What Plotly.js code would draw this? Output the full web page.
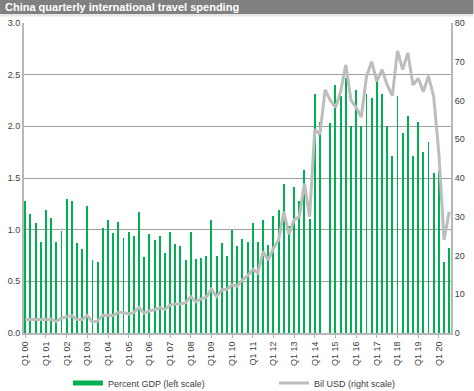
<!DOCTYPE html>
<html><head><meta charset="utf-8">
<script src="https://cdn.plot.ly/plotly-3.0.1.min.js"></script>
<style>html,body{margin:0;padding:0;background:#fff}#chart{width:474px;height:391px}</style>
</head><body><div id="chart"></div>
<script>
// Quarters Q1 2000 .. Q3 2020
const quarters = [
 'Q1 00','Q2 00','Q3 00','Q4 00','Q1 01','Q2 01','Q3 01','Q4 01','Q1 02','Q2 02','Q3 02','Q4 02',
 'Q1 03','Q2 03','Q3 03','Q4 03','Q1 04','Q2 04','Q3 04','Q4 04','Q1 05','Q2 05','Q3 05','Q4 05',
 'Q1 06','Q2 06','Q3 06','Q4 06','Q1 07','Q2 07','Q3 07','Q4 07','Q1 08','Q2 08','Q3 08','Q4 08',
 'Q1 09','Q2 09','Q3 09','Q4 09','Q1 10','Q2 10','Q3 10','Q4 10','Q1 11','Q2 11','Q3 11','Q4 11',
 'Q1 12','Q2 12','Q3 12','Q4 12','Q1 13','Q2 13','Q3 13','Q4 13','Q1 14','Q2 14','Q3 14','Q4 14',
 'Q1 15','Q2 15','Q3 15','Q4 15','Q1 16','Q2 16','Q3 16','Q4 16','Q1 17','Q2 17','Q3 17','Q4 17',
 'Q1 18','Q2 18','Q3 18','Q4 18','Q1 19','Q2 19','Q3 19','Q4 19','Q1 20','Q2 20','Q3 20'];

// Percent of GDP (left scale)
const pctGDP = [
 1.28,1.15,1.06,0.88, 1.19,1.11,0.88,0.99, 1.30,1.28,0.87,0.81,
 1.23,0.71,0.69,1.02, 1.09,0.97,1.07,0.92, 0.98,0.94,1.17,0.74,
 0.955,0.90,0.94,0.77, 0.98,0.865,0.84,0.705, 0.98,0.72,0.73,0.75,
 1.09,0.75,0.875,0.75, 1.00,0.84,0.91,0.88, 1.065,0.88,1.09,0.855,
 1.13,1.19,1.445,1.04, 1.41,1.28,1.58,1.10, 2.31,2.04,null,2.03,
 2.40,2.29,2.47,2.00, 2.35,2.00,2.31,2.27, 2.43,2.31,2.00,1.71,
 2.29,1.94,2.10,1.71, 2.04,1.75,1.85,1.55, 1.57,0.69,0.82];

// Billion USD (right scale)
const bilUSD = [
 3.5,3.5,3.4,3.35, 3.5,3.55,3.0,3.8, 4.2,4.5,3.5,3.5,
 4.5,2.8,3.1,4.6, 4.5,4.5,5.3,5.3, 4.9,5.3,6.6,5.1,
 5.7,6.0,6.5,6.1, 7.2,7.5,7.5,7.8, 9.4,8.1,8.8,9.2,
 11.3,9.4,11.1,11.3, 12.4,12.1,13.7,14.7, 16.4,15.6,21.0,18.8,
 21.9,24.0,31.3,25.5, 29.2,30.0,38.6,30.0, 52.5,51.3,62.8,60.0,
 58.2,62.3,69.2,60.1, 58.2,55.7,66.2,70.0, 64.9,68.0,64.0,61.2,
 72.8,68.0,72.3,64.0, 65.7,62.3,66.3,61.0, 46.4,24.0,31.3];

const yearTicks = ['Q1 00','Q1 01','Q1 02','Q1 03','Q1 04','Q1 05','Q1 06','Q1 07','Q1 08','Q1 09','Q1 10',
 'Q1 11','Q1 12','Q1 13','Q1 14','Q1 15','Q1 16','Q1 17','Q1 18','Q1 19','Q1 20'];

const leftTicks = [0,0.5,1,1.5,2,2.5,3];
const rightTicks = [0,10,20,30,40,50,60,70,80];

const seriesNames = ['Percent GDP (left scale)','Bil USD (right scale)'];
const titleText = 'China quarterly international travel spending';

const GREEN = '#00b050', GREY = '#bdbdbd';
const FONT = 'Liberation Sans, Arial, sans-serif';

const traces = [
  {type:'bar', x:quarters, y:pctGDP, marker:{color:GREEN, line:{width:0}}, width:0.38,
   showlegend:false, hoverinfo:'skip'},
  {type:'scatter', mode:'lines', x:[null], y:[null], name:seriesNames[0],
   line:{color:GREEN, width:5}},
  {type:'scatter', mode:'lines', x:quarters, y:bilUSD, yaxis:'y2', name:seriesNames[1],
   line:{color:GREY, width:3}, connectgaps:true}
];

const L=24, R=451.5, T=23, B=333, W=474, H=391;
const px = v => (v - L)/(R - L);
const py = v => (B - v)/(B - T);

const layout = {
  width:W, height:H,
  margin:{l:L, r:W-R, t:T, b:H-B, autoexpand:false, pad:0},
  paper_bgcolor:'#ffffff', plot_bgcolor:'#ffffff',
  font:{family:FONT, size:9, color:'#404040'},
  bargap:0,
  showlegend:true,
  legend:{orientation:'h', x:px(68), xanchor:'left', y:py(383), yanchor:'middle',
          font:{family:FONT, size:9, color:'#404040'}, entrywidth:161, entrywidthmode:'pixels',
          bgcolor:'rgba(0,0,0,0)', traceorder:'normal', tracegroupgap:0},
  xaxis:{type:'category', range:[-0.25, 82.35], tickmode:'array', tickvals:yearTicks, ticktext:yearTicks,
         tickangle:-90, ticks:'outside', ticklen:3, tickcolor:'#b0b0b0', tickwidth:1,
         showline:true, linecolor:'#b8b8b8', linewidth:2, showgrid:false, automargin:false,
         tickfont:{family:FONT, size:9, color:'#404040'}, fixedrange:true},
  yaxis:{range:[0,3], tickmode:'array', tickvals:leftTicks, tickformat:'.1f',
         showgrid:true, gridcolor:'#a0a0a0', gridwidth:1, zeroline:false,
         showline:true, linecolor:'#b8b8b8', linewidth:2, ticks:'', automargin:false,
         tickfont:{family:FONT, size:9, color:'#404040'}},
  yaxis2:{range:[0,80], overlaying:'y', side:'right', tickmode:'array', tickvals:rightTicks,
          showgrid:false, zeroline:false, showline:true, linecolor:'#b8b8b8', linewidth:2,
          ticks:'', automargin:false, tickfont:{family:FONT, size:9, color:'#404040'}},
  shapes:[
    {type:'rect', xref:'paper', yref:'paper', x0:px(0), x1:px(W), y0:py(14), y1:py(0),
     fillcolor:'#808080', line:{width:0}, layer:'below'},
    {type:'rect', xref:'paper', yref:'paper', x0:px(0), x1:px(W), y0:py(16.5), y1:py(14),
     fillcolor:'#e6e6e6', line:{width:0}, layer:'below'}
  ],
  annotations:[
    {text:'<b>'+titleText+'</b>', xref:'paper', yref:'paper', x:px(3), y:py(7),
     xanchor:'left', yanchor:'middle', showarrow:false,
     font:{family:FONT, size:11, color:'#ffffff'}}
  ]
};

Plotly.newPlot('chart', traces, layout, {staticPlot:true, displayModeBar:false});
</script>
</body></html>
